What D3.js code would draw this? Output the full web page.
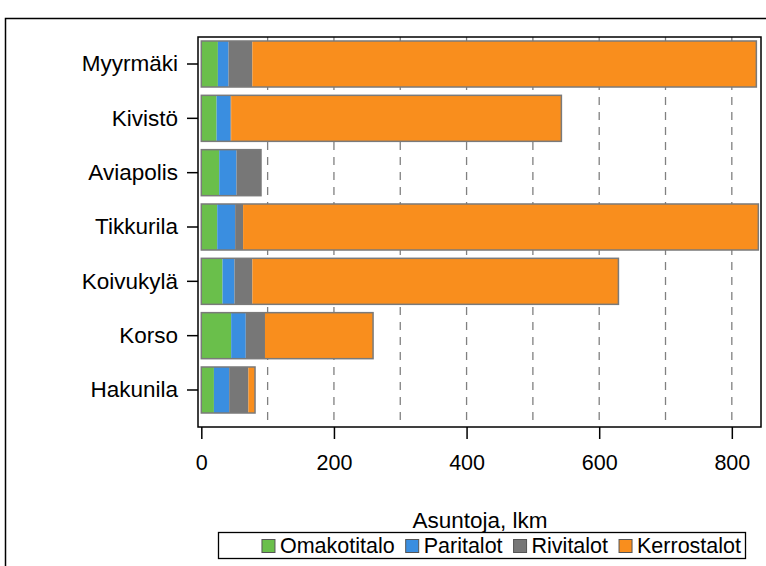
<!DOCTYPE html>
<html>
<head>
<meta charset="utf-8">
<script src="https://cdn.jsdelivr.net/npm/d3@7/dist/d3.min.js"></script>
<style>
  html, body { margin: 0; padding: 0; background: #fff; }
  svg { display: block; }
  text { font-family: "Liberation Sans", Arial, sans-serif; fill: #000; }
</style>
</head>
<body>
<svg id="chart" width="766" height="566"></svg>
<script>
// ---- data ----
const categories = ["Myyrmäki", "Kivistö", "Aviapolis", "Tikkurila", "Koivukylä", "Korso", "Hakunila"];
const seriesNames = ["Omakotitalo", "Paritalot", "Rivitalot", "Kerrostalot"];
const omakotitalo = [25, 23, 27, 24, 32, 45, 19];
const paritalot   = [16, 21, 26, 27, 18, 22, 23];
const rivitalot   = [36, 1, 37, 12, 27, 29, 29];
const kerrostalot = [760, 498, 0, 777, 552, 163, 10];
const xTicks = [0, 200, 400, 600, 800];
const gridValues = [100, 200, 300, 400, 500, 600, 700, 800];
const xTitle = "Asuntoja, lkm";
const colors = ["#6abf4b", "#3a8ee0", "#777777", "#f98e1d"];

// ---- layout ----
const svg = d3.select("#chart");
const plot = { left: 198, right: 761, top: 37, bottom: 427 };

const x = d3.scaleLinear().domain([-5, 844]).range([plot.left, plot.right]);
const y = d3.scaleBand().domain(categories).range([37, 417]).paddingInner(0.153).paddingOuter(0.0735);

const rows = categories.map((c, i) => ({
  cat: c,
  Omakotitalo: omakotitalo[i],
  Paritalot: paritalot[i],
  Rivitalot: rivitalot[i],
  Kerrostalot: kerrostalot[i]
}));
const stacked = d3.stack().keys(seriesNames)(rows);

// outer frame
svg.append("rect").attr("x", 5.5).attr("y", 18.5).attr("width", 800).attr("height", 600)
  .attr("fill", "none").attr("stroke", "#000").attr("stroke-width", 1.5);

// gridlines
svg.append("g").selectAll("line").data(gridValues).join("line")
  .attr("x1", d => x(d)).attr("x2", d => x(d))
  .attr("y1", plot.top).attr("y2", plot.bottom)
  .attr("stroke", "#808080").attr("stroke-width", 1.3)
  .attr("stroke-dasharray", "8,7");

// bars
const series = svg.append("g").selectAll("g").data(stacked).join("g")
  .attr("fill", (d, i) => colors[i]);
series.selectAll("rect").data(d => d.filter(p => p[1] - p[0] > 0)).join("rect")
  .attr("x", d => x(d[0]))
  .attr("width", d => x(d[1]) - x(d[0]))
  .attr("y", d => y(d.data.cat))
  .attr("height", y.bandwidth());

// bar outline around each whole stack
svg.append("g").selectAll("rect").data(rows).join("rect")
  .attr("x", d => x(0))
  .attr("width", d => x(d.Omakotitalo + d.Paritalot + d.Rivitalot + d.Kerrostalot) - x(0))
  .attr("y", d => y(d.cat))
  .attr("height", y.bandwidth())
  .attr("fill", "none").attr("stroke", "#7a7a7a").attr("stroke-width", 1.5);

// plot frame
svg.append("rect").attr("x", plot.left).attr("y", plot.top)
  .attr("width", plot.right - plot.left).attr("height", plot.bottom - plot.top)
  .attr("fill", "none").attr("stroke", "#000").attr("stroke-width", 1.5);

// x axis
const xAxis = d3.axisBottom(x).tickValues(xTicks).tickSize(12).tickPadding(16).tickFormat(d3.format("d"));
const gx = svg.append("g").attr("transform", `translate(0,${plot.bottom})`).call(xAxis);
gx.select(".domain").remove();
gx.selectAll(".tick line").attr("stroke", "#000").attr("stroke-width", 1.5);
gx.selectAll(".tick text").attr("font-size", 21.5).attr("font-family", "Liberation Sans, Arial, sans-serif");

// y axis
const yAxis = d3.axisLeft(y).tickSize(11).tickPadding(9);
const gy = svg.append("g").attr("transform", `translate(${plot.left},0)`).call(yAxis);
gy.select(".domain").remove();
gy.selectAll(".tick line").attr("stroke", "#000").attr("stroke-width", 1.5);
gy.selectAll(".tick text").attr("font-size", 22.5).attr("font-family", "Liberation Sans, Arial, sans-serif");

// x title
svg.append("text").attr("x", 480).attr("y", 528)
  .attr("text-anchor", "middle").attr("font-size", 22.5).text(xTitle);

// legend
const lg = svg.append("g");
const legendLeft = 218, legendRight = 745, legendTop = 532, legendH = 26, sq = 13, lfs = 21.5;
const items = [];
const tmp = lg.append("g");
seriesNames.forEach((n, i) => {
  const t = tmp.append("text").attr("font-size", lfs).text(n);
  items.push({ name: n, w: t.node().getComputedTextLength(), color: colors[i] });
});
tmp.remove();
const gapSqText = 5, gapItem = 11;
const totalW = items.reduce((s, it) => s + sq + gapSqText + it.w, 0) + gapItem * (items.length - 1);
let xStart = legendRight - 4 - totalW;
lg.append("rect").attr("x", legendLeft + 0.5).attr("y", legendTop + 0.5)
  .attr("width", legendRight - legendLeft).attr("height", legendH)
  .attr("fill", "#fff").attr("stroke", "#000").attr("stroke-width", 1.3);
items.forEach(it => {
  lg.append("rect").attr("x", xStart).attr("y", legendTop + (legendH - sq) / 2 + 1)
    .attr("width", sq).attr("height", sq).attr("fill", it.color)
    .attr("stroke", "#555").attr("stroke-width", 1);
  lg.append("text").attr("x", xStart + sq + gapSqText).attr("y", legendTop + legendH / 2 + 8)
    .attr("font-size", lfs).text(it.name);
  xStart += sq + gapSqText + it.w + gapItem;
});
</script>
</body>
</html>
